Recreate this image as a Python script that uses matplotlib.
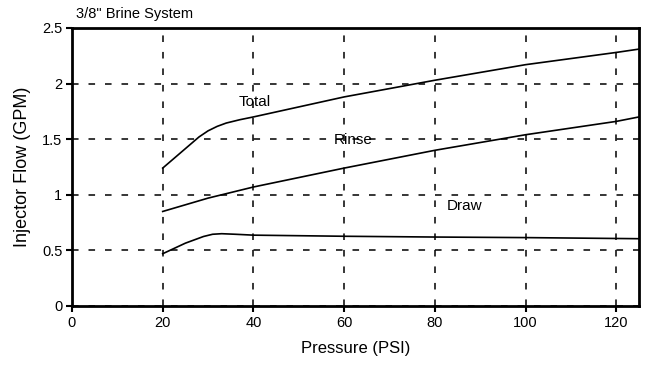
import matplotlib
matplotlib.use("Agg")
import matplotlib.pyplot as plt

plt.rcParams['font.family'] = ['Liberation Sans', 'DejaVu Sans']

total_x = [20, 28, 30, 32, 34, 37, 40, 50, 60, 80, 100, 120, 125]
total_y = [1.24, 1.52, 1.575, 1.615, 1.645, 1.675, 1.70, 1.79, 1.88, 2.03, 2.17, 2.28, 2.31]

rinse_x = [20, 30, 40, 60, 80, 100, 120, 125]
rinse_y = [0.85, 0.97, 1.07, 1.24, 1.40, 1.54, 1.66, 1.70]

draw_x = [20, 25, 29, 31, 33, 36, 40, 60, 80, 100, 125]
draw_y = [0.47, 0.565, 0.625, 0.645, 0.65, 0.645, 0.637, 0.627, 0.62, 0.615, 0.605]

labels = ["Total", "Rinse", "Draw"]
label_x = [40.3, 62, 86.5]
label_y = [1.83, 1.49, 0.90]

x_ticks = [0, 20, 40, 60, 80, 100, 120]
y_ticks = [0, 0.5, 1, 1.5, 2, 2.5]

fig = plt.figure(figsize=(6.45, 3.68), dpi=100)
ax = fig.add_axes([0.1116, 0.1685, 0.8791, 0.7555])

ax.plot(total_x, total_y, color='black', linewidth=1.2)
ax.plot(rinse_x, rinse_y, color='black', linewidth=1.2)
ax.plot(draw_x, draw_y, color='black', linewidth=1.2)

for t, lx, ly in zip(labels, label_x, label_y):
    ax.text(lx, ly, t, ha='center', va='center', fontsize=11)

ax.set_xlim(0, 125)
ax.set_ylim(0, 2.5)
ax.set_xticks(x_ticks)
ax.set_yticks(y_ticks)
ax.set_yticklabels(["0", "0.5", "1", "1.5", "2", "2.5"])
ax.tick_params(direction='out', length=4, width=1.5, labelsize=10.5, pad=3)

ax.grid(True, color='black', linewidth=1.1, linestyle=(0, (4.3, 6.5)))
for s in ax.spines.values():
    s.set_linewidth(2)

ax.set_xlabel("Pressure (PSI)", fontsize=12, labelpad=8)
ax.set_ylabel("Injector Flow (GPM)", fontsize=13, labelpad=8)
fig.text(76 / 645, 1 - 14 / 368, '3/8" Brine System', fontsize=10.5, ha='left', va='center')

fig.savefig("out.png", dpi=100)
